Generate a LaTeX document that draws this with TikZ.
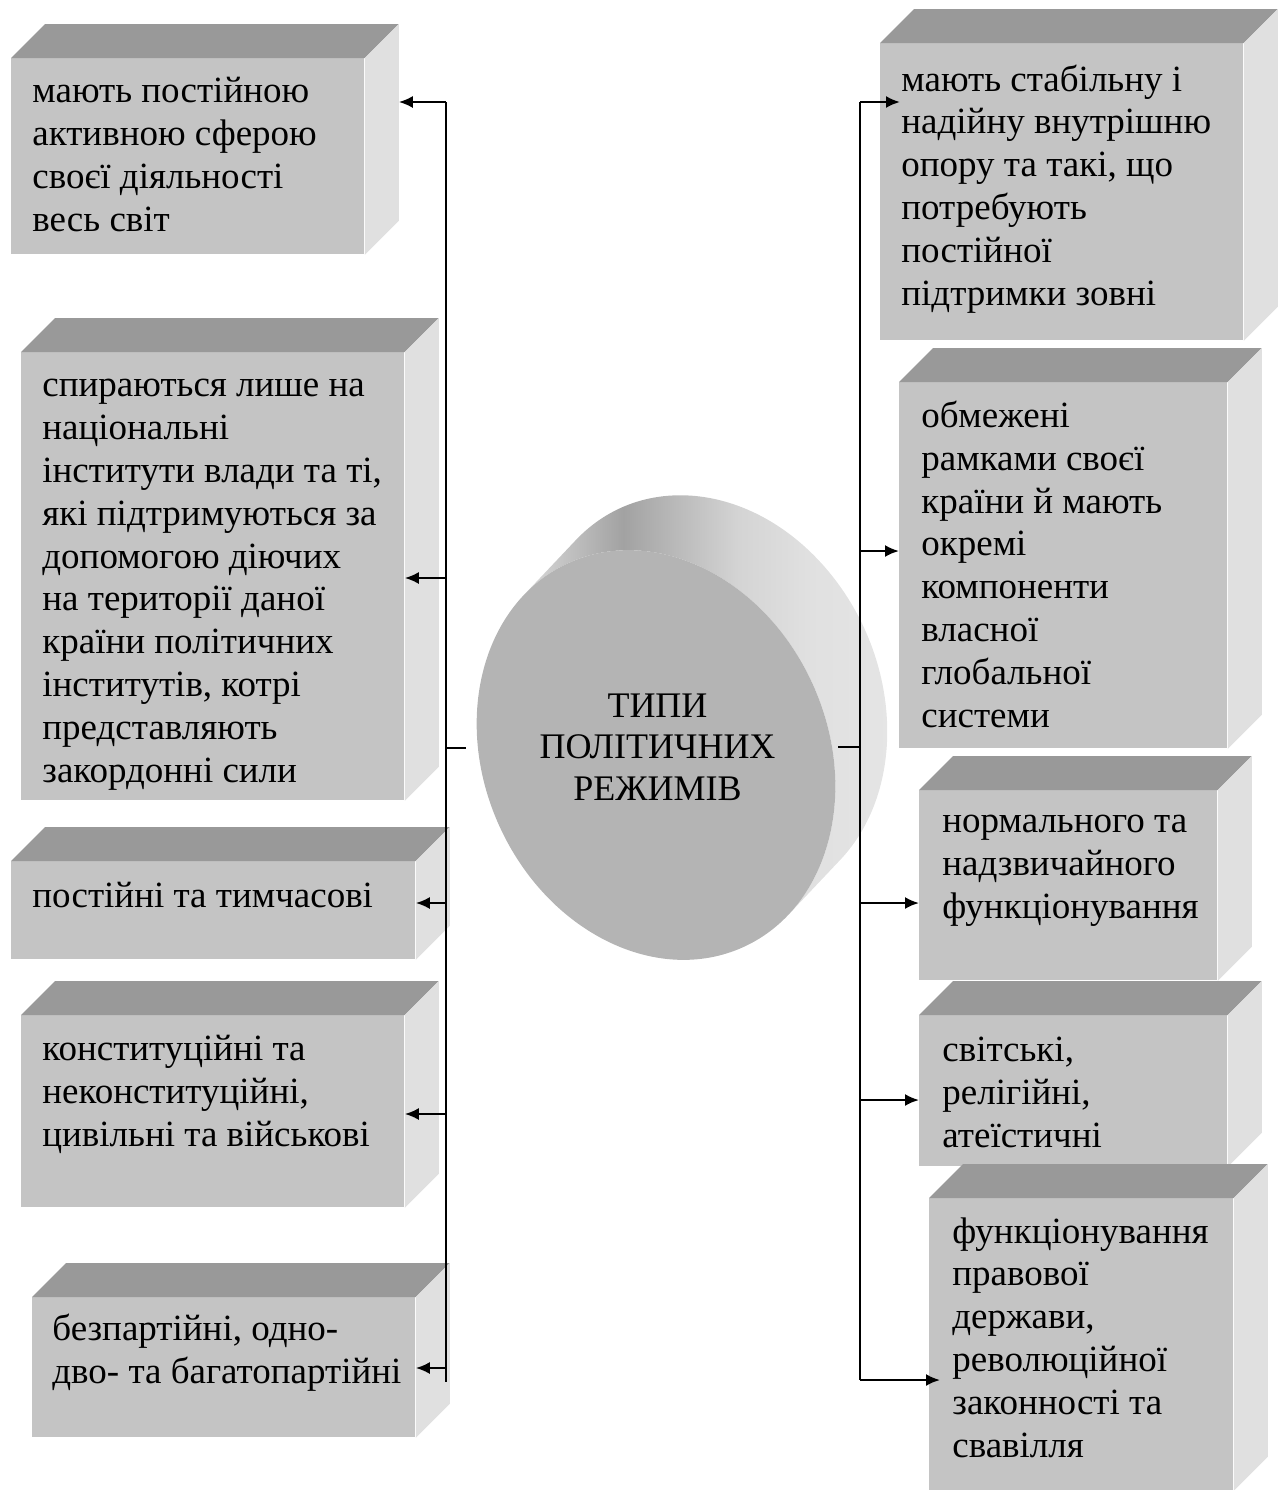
\documentclass[tikz,border=0pt]{standalone}
\usepackage{fontspec}
\setmainfont{Liberation Serif}
\usetikzlibrary{positioning,arrows.meta}

\definecolor{frontgray}{RGB}{196,196,196}
\definecolor{topgray}{RGB}{153,153,153}
\definecolor{sidegray}{RGB}{224,224,224}
\definecolor{discgray}{RGB}{180,180,180}
\definecolor{rimlight}{RGB}{218,218,218}
\definecolor{rimdark}{RGB}{162,162,162}
\definecolor{rimmid}{RGB}{186,186,186}
\definecolor{rimpale}{RGB}{212,212,212}
\definecolor{rimright}{RGB}{230,230,230}
\pgfdeclarehorizontalshading{rim}{100bp}{color(0bp)=(rimlight); color(25bp)=(rimlight); color(38bp)=(rimdark); color(45bp)=(rimmid); color(53bp)=(rimpale); color(62bp)=(sidegray); color(75bp)=(rimright); color(100bp)=(rimright)}

\begin{document}
\begin{tikzpicture}[x=0.5pt,y=-0.5pt,
  face/.style={rectangle,fill=frontgray,anchor=north west,inner sep=0pt},
  txt/.style={anchor=base west,align=left,inner sep=0pt,font=\fontsize{18.5pt}{21.4pt}\selectfont},
  bus/.style={line width=1.1pt},
  arr/.style={line width=1.1pt,-{Latex[length=7pt,width=6pt]}}]
\useasboundingbox (0,0) rectangle (1281,1490);

% front faces
\node(l1)[face,minimum width=176.5pt,minimum height=98pt] at (11,58){};
\node(l2)[face,minimum width=191.5pt,minimum height=224pt] at (21,352){};
\node(l3)[face,minimum width=202pt,minimum height=49pt] at (11,861){};
\node(l4)[face,minimum width=191.5pt,minimum height=96pt] at (21,1015){};
\node(l5)[face,minimum width=191.5pt,minimum height=70pt] at (32,1297){};
\node(r1)[face,minimum width=181.5pt,minimum height=148.5pt] at (880,43){};
\node(r2)[face,minimum width=164pt,minimum height=183pt] at (899,382){};
\node(r3)[face,minimum width=149pt,minimum height=95pt] at (919,790){};
\node(r4)[face,minimum width=154pt,minimum height=75.5pt] at (919,1015){};
\node(r5)[face,minimum width=152pt,minimum height=146pt] at (929,1198){};

% top and right faces
\foreach \b in {l1,l2,l3,l4,l5,r1,r2,r3,r4,r5}{
  \fill[topgray] (\b.north west) -- ++(34,-34) -- ([shift={(34,-34)}]\b.north east) -- (\b.north east) -- cycle;
  \fill[sidegray] (\b.north east) -- ++(34,-34) -- ([shift={(34,-34)}]\b.south east) -- (\b.south east) -- cycle;
}

% texts (placed at the baseline of the last line)
\node(l1t)[txt] at (32,231){мають постійною\\активною сферою\\своєї діяльності\\весь світ};
\node(l2t)[txt] at (42,782){спираються лише на\\національні\\інститути влади та ті,\\які підтримуються за\\допомогою діючих\\на території даної\\країни політичних\\інститутів, котрі\\представляють\\закордонні сили};
\node(l3t)[txt] at (32,907){постійні та тимчасові};
\node(l4t)[txt] at (42,1146){конституційні та\\неконституційні,\\цивільні та військові};
\node(l5t)[txt] at (52,1383){безпартійні, одно-\\дво- та багатопартійні};
\node(r1t)[txt] at (901,305){мають стабільну і\\надійну внутрішню\\опору та такі, що\\потребують\\постійної\\підтримки зовні};
\node(r2t)[txt] at (921,727){обмежені\\рамками своєї\\країни й мають\\окремі\\компоненти\\власної\\глобальної\\системи};
\node(r3t)[txt] at (942,918){нормального та\\надзвичайного\\функціонування};
\node(r4t)[txt] at (942,1147){світські,\\релігійні,\\атеїстичні};
\node(r5t)[txt] at (952,1457){функціонування\\правової\\держави,\\революційної\\законності та\\свавілля};

% disc
\begin{scope}[shift={(656,755)},rotate=24.5]
  \shade[shading=rim] (108.3:86pt and 105.5pt) -- ++(22.1:37.8pt)
    arc[start angle=108.3,end angle=-71.7,x radius=86pt,y radius=105.5pt]
    -- ++(202.1:37.8pt)
    arc[start angle=-71.7,end angle=108.3,x radius=86pt,y radius=105.5pt] -- cycle;
  \fill[discgray] (0,0) ellipse[x radius=86pt,y radius=105.5pt];
\end{scope}
\node(typy)[align=center,anchor=base,inner sep=0pt,font=\fontsize{18pt}{20.75pt}\selectfont] at (657.5,800){ТИПИ\\ПОЛІТИЧНИХ\\РЕЖИМІВ};

% left connectors
\coordinate(l1j) at (446,102);
\coordinate(l2j) at (446,578);
\coordinate(lcj) at (446,748);
\coordinate(lce) at (466,748);
\coordinate(l3j) at (446,903);
\coordinate(l4j) at (446,1114);
\coordinate(l5j) at (446,1368);
\coordinate(lend) at (446,1382);
\coordinate(l1s) at ([xshift=17pt]l1.east);
\draw[bus](l1j)--(lend);
\draw[bus](lcj)--(lce);
\draw[arr](l1j)--(l1j -| l1s);
\draw[arr](l2j)--(l2j -| l2.east);
\draw[arr](l3j)--(l3j -| l3.east);
\draw[arr](l4j)--(l4j -| l4.east);
\draw[arr](l5j)--(l5j -| l5.east);

% right connectors
\coordinate(r1j) at (860,102);
\coordinate(r2j) at (860,551);
\coordinate(rcj) at (860,747);
\coordinate(rce) at (838,747);
\coordinate(r3j) at (860,903);
\coordinate(r4j) at (860,1100);
\coordinate(r5j) at (860,1380);
\coordinate(r1s) at ([xshift=10pt]r1.west);
\coordinate(r5s) at ([xshift=5.5pt]r5.west);
\draw[bus](r1j)--(r5j);
\draw[bus](rcj)--(rce);
\draw[arr](r1j)--(r1j -| r1s);
\draw[arr](r2j)--(r2j -| r2.west);
\draw[arr](r3j)--(r3j -| r3.west);
\draw[arr](r4j)--(r4j -| r4.west);
\draw[arr](r5j)--(r5j -| r5s);
\end{tikzpicture}
\end{document}
